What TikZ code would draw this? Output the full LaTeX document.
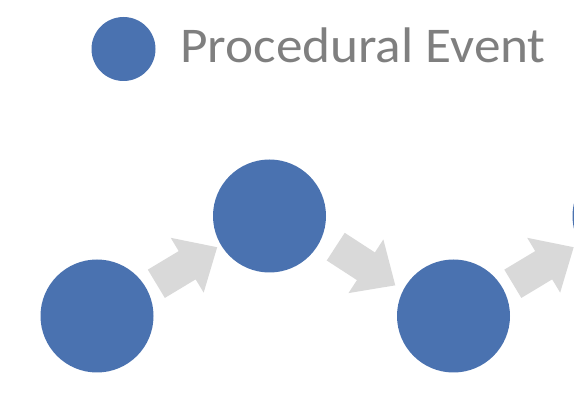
\documentclass[tikz,border=0pt]{standalone}
\usepackage{fontspec}
\setmainfont{Carlito}
\definecolor{eventblue}{HTML}{4A72B0}
\definecolor{arrowgray}{HTML}{D9D9D9}
\definecolor{labelgray}{HTML}{7F7F7F}
\begin{document}
\begin{tikzpicture}[x=1pt,y=-1pt,
  event/.style={circle,fill=eventblue,draw=none,inner sep=0pt,minimum size=113pt},
  legenddot/.style={circle,fill=eventblue,draw=none,inner sep=0pt,minimum size=64pt},
  legendtext/.style={text=labelgray,font=\fontsize{50}{56}\selectfont,inner sep=0pt,anchor=base west},
  pics/blockarrow/.style={code={
    \fill[arrowgray] (-35.5,-16.5) -- (0.5,-16.5) -- (0.5,-32) -- (35.5,0)
      -- (0.5,32) -- (0.5,16.5) -- (-35.5,16.5) -- cycle;}}]
  \useasboundingbox (0,0) rectangle (574,401);
  \clip (0,0) rectangle (574,401);

  % legend
  \node[legenddot] (key) at (123.5,49) {};
  \node[legendtext] (keylabel) at (180,63) {\scalebox{1.065}[1]{Procedural Event}};

  % chain of events
  \node[event] (e1) at (97,316) {};
  \node[event] (e2) at (269.5,216) {};
  \node[event] (e3) at (453.5,316) {};
  \node[event] (e4) at (629,216) {};

  % block arrows between consecutive events
  \pic[rotate=31] (a12) at (186.75,265.5) {blockarrow};
  \pic[rotate=-33] (a23) at (365.5,266) {blockarrow};
  \pic[rotate=31] (a34) at (543.25,265.5) {blockarrow};
\end{tikzpicture}
\end{document}
